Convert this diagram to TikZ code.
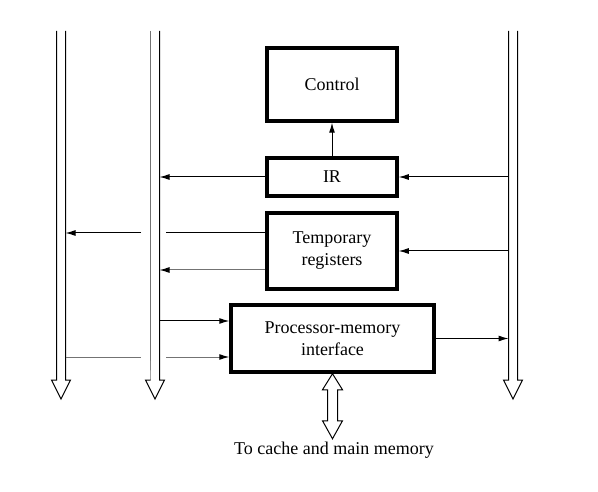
\documentclass[tikz,border=0pt]{standalone}
\usepackage{fontspec}
\setmainfont{Liberation Serif}
\usetikzlibrary{arrows.meta}
\begin{document}
\begin{tikzpicture}[x=1pt,y=-1pt,
  unit/.style={draw, line width=3.5pt, inner sep=0pt, align=center,
    font=\fontsize{18}{22}\selectfont},
  busline/.style={line width=1pt, fill=white, line join=miter},
  sig/.style={line width=1pt, -{Latex[length=10pt,width=6pt,color=black]}},
  plain/.style={line width=1pt},
  faint/.style={draw=black!55}]
\useasboundingbox (0,0) rectangle (598,492);

% units
\node[unit, minimum width=130, minimum height=73] (ctrl) at (332,84.5) {Control};
\node[unit, minimum width=130, minimum height=38] (ir) at (332,177) {IR};
\node[unit, minimum width=130, minimum height=76] (temp) at (332,251) {Temporary\\registers};
\node[unit, minimum width=203, minimum height=67] (pmi) at (332.5,338.5) {Processor-memory\\interface};
\node[font=\fontsize{18}{22}\selectfont] (lbl) at (334,450) {To cache and main memory};

% buses
\draw[busline] (56.5,31) -- (56.5,380) -- (51.5,380) -- (61,399) -- (70.5,380) -- (65.5,380) -- (65.5,31);
\draw[busline, draw=black!55] (150.5,31) -- (150.5,380);
\draw[busline] (150.5,380) -- (145.5,380) -- (155,399) -- (164.5,380) -- (159.5,380) -- (159.5,31);
\draw[busline] (508.5,31) -- (508.5,380) -- (503.5,380) -- (513,399) -- (522.5,380) -- (517.5,380) -- (517.5,31);

% bus edge coordinates
\coordinate (Ar) at (65.5,0);
\coordinate (Br) at (159.5,0);
\coordinate (Cl) at (508.5,0);
\coordinate (gapL) at (141,0);
\coordinate (gapR) at (166,0);
\coordinate (y1) at (0,233);
\coordinate (y2) at (0,270);
\coordinate (y3) at (0,321);
\coordinate (y4) at (0,357);

% connectors
\draw[sig] (ir.north) -- (ctrl.south);
\draw[sig] (ir.west) -- (ir.west -| Br);
\draw[sig] (ir.east -| Cl) -- (ir.east);
\draw[sig] (temp.east -| Cl) -- (temp.east);
\draw[plain] (temp.west |- y1) -- (gapR |- y1);
\draw[sig] (gapL |- y1) -- (Ar |- y1);
\draw[sig, faint] (temp.west |- y2) -- (Br |- y2);
\draw[sig] (Br |- y3) -- (pmi.west |- y3);
\draw[plain, faint] (Ar |- y4) -- (gapL |- y4);
\draw[sig, faint] (gapR |- y4) -- (pmi.west |- y4);
\draw[sig] (pmi.east) -- (pmi.east -| Cl);

% double arrow to memory
\draw[busline] (pmi.south) -- ++(10,16) -- ++(-5,0) -- ++(0,31) -- ++(5,0)
  -- ++(-10,18) -- ++(-10,-18) -- ++(5,0) -- ++(0,-31) -- ++(-5,0) -- cycle;
\end{tikzpicture}
\end{document}
